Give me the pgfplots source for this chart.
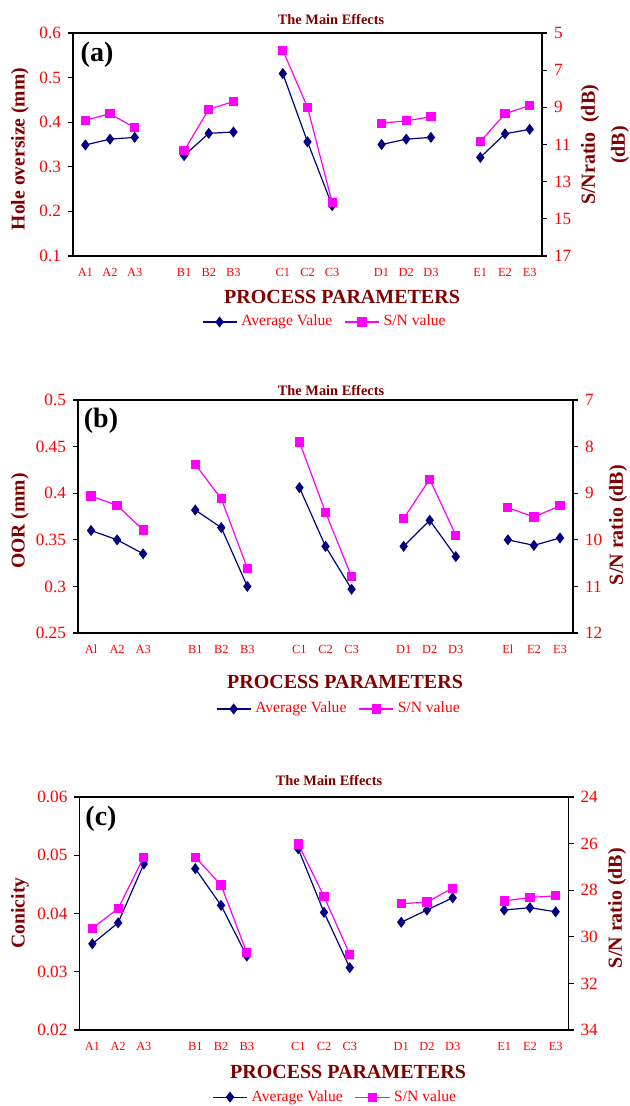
\documentclass[border=0pt]{standalone}
\usepackage{fontspec}
\setmainfont{Liberation Serif}
\usepackage{pgfplots}
\usepackage{pgfplotstable}
\pgfplotsset{compat=1.18}

\definecolor{avgblue}{RGB}{0,0,128}
\definecolor{snpink}{RGB}{255,0,255}
\definecolor{lblred}{RGB}{128,0,0}
\definecolor{tickred}{RGB}{255,0,0}

% x: A1..A3, gap, B1..B3, gap, ... (nan rows break the lines)
\pgfplotstableread{
x  avgA   snA    avgB   snB    avgC    snC
0  0.349  9.69   0.360  9.06   0.0348  29.63
1  0.362  9.35   0.350  9.26   0.0384  28.79
2  0.366  10.09  0.335  9.79   0.0485  26.58
3  nan    nan    nan    nan    nan     nan
4  0.325  11.34  0.382  8.38   0.0477  26.58
5  0.375  9.10   0.363  9.12   0.0414  27.78
6  0.378  8.69   0.300  10.61  0.0327  30.68
7  nan    nan    nan    nan    nan     nan
8  0.509  5.93   0.406  7.90   0.0511  26.02
9  0.356  9.00   0.343  9.41   0.0402  28.27
10 0.213  14.14  0.297  10.79  0.0307  30.75
11 nan    nan    nan    nan    nan     nan
12 0.350  9.85   0.343  9.54   0.0385  28.58
13 0.362  9.73   0.371  8.70   0.0406  28.51
14 0.366  9.50   0.332  9.90   0.0427  27.91
15 nan    nan    nan    nan    nan     nan
16 0.321  10.84  0.350  9.31   0.0406  28.46
17 0.374  9.35   0.344  9.51   0.0410  28.31
18 0.384  8.90   0.352  9.27   0.0403  28.24
}\maineff

\pgfplotsset{
  common/.style={
    scale only axis, anchor=south west,
    xmin=-0.5, xmax=18.5,
    unbounded coords=jump,
    scaled y ticks=false,
    tick align=outside, major tick length=2.5pt,
    tick style={black, line width=0.6pt},
    y tick label style={font=\fontsize{8.6}{10}\selectfont, text=tickred},
    /pgf/number format/assume math mode=true,
  },
  leftax/.style={
    common,
    axis line style={line width=0.8pt},
    xtick={0,1,2,4,5,6,8,9,10,12,13,14,16,17,18},
    xtick style={draw=none},
    x tick label style={font=\fontsize{6.2}{7}\selectfont, text=tickred},
    ytick pos=left,
  },
  rightax/.style={
    common,
    axis x line=none, axis y line*=right, y dir=reverse,
    axis line style={line width=0.8pt},
    legend style={draw=none, fill=none, legend columns=2, anchor=center,
      font=\fontsize{7.8}{9}\selectfont, text=tickred,
      /tikz/every even column/.append style={column sep=4pt}},
  },
  avgline/.style={avgblue, line width=0.6pt, mark=diamond*, mark size=2.3pt,
    mark options={fill=avgblue}},
  snline/.style={snpink, line width=0.6pt, mark=square*, mark size=2pt,
    mark options={fill=snpink}},
}

\begin{document}
\begin{tikzpicture}
\clip (0,0) rectangle (314.5pt,-553pt);

% ---------------- (a) ----------------
\begin{axis}[leftax, at={(36.5pt,-128pt)}, width=234.5pt, height=111.5pt,
  ymin=0.1, ymax=0.6, ytick={0.1,0.2,0.3,0.4,0.5,0.6},
  yticklabels={0.1,0.2,0.3,0.4,0.5,0.6},
  xticklabels={A1,A2,A3,B1,B2,B3,C1,C2,C3,D1,D2,D3,E1,E2,E3}]
\addplot[avgline] table[x=x, y=avgA] {\maineff};
\end{axis}
\begin{axis}[rightax, at={(36.5pt,-128pt)}, width=234.5pt, height=111.5pt,
  ymin=5, ymax=17, ytick={5,7,9,11,13,15,17},
  legend style={at={(0.539,-0.296)}}]
\addlegendimage{avgline}
\addplot[snline] table[x=x, y=snA] {\maineff};
\legend{Average Value, S/N value}
\end{axis}

% ---------------- (b) ----------------
\begin{axis}[leftax, at={(39pt,-316.5pt)}, width=247.5pt, height=116.5pt,
  ymin=0.25, ymax=0.5, ytick={0.25,0.3,0.35,0.4,0.45,0.5},
  yticklabels={0.25,0.3,0.35,0.4,0.45,0.5},
  xticklabels={Al,A2,A3,B1,B2,B3,C1,C2,C3,D1,D2,D3,El,E2,E3}]
\addplot[avgline] table[x=x, y=avgB] {\maineff};
\end{axis}
\begin{axis}[rightax, at={(39pt,-316.5pt)}, width=247.5pt, height=116.5pt,
  ymin=7, ymax=12, ytick={7,8,9,10,11,12},
  legend style={at={(0.529,-0.326)}}]
\addlegendimage{avgline}
\addplot[snline] table[x=x, y=snB] {\maineff};
\legend{Average Value, S/N value}
\end{axis}

% ---------------- (c) ----------------
\begin{axis}[leftax, at={(39.75pt,-515pt)}, width=244.5pt, height=116.5pt,
  ymin=0.02, ymax=0.06, ytick={0.02,0.03,0.04,0.05,0.06},
  yticklabels={0.02,0.03,0.04,0.05,0.06},
  xticklabels={A1,A2,A3,B1,B2,B3,C1,C2,C3,D1,D2,D3,E1,E2,E3}]
\addplot[avgline] table[x=x, y=avgC] {\maineff};
\end{axis}
\begin{axis}[rightax, at={(39.75pt,-515pt)}, width=244.5pt, height=116.5pt,
  ymin=24, ymax=34, ytick={24,26,28,30,32,34},
  legend style={at={(0.525,-0.288)}}]
\addlegendimage{avgline}
\addplot[snline] table[x=x, y=snC] {\maineff};
\legend{Average Value, S/N value}
\end{axis}

% titles, axis titles and panel letters
\tikzset{ttl/.style={font=\bfseries\fontsize{7.2}{8}\selectfont, text=lblred},
  xlab/.style={font=\bfseries\fontsize{10}{12}\selectfont, text=lblred},
  ylab/.style={font=\bfseries\fontsize{9.8}{12}\selectfont, text=lblred, rotate=90},
  pan/.style={font=\bfseries\fontsize{14}{16}\selectfont}}
\node[ttl] at (165.5pt,-10pt) {The Main Effects};
\node[ttl] at (165.5pt,-195.5pt) {The Main Effects};
\node[ttl] at (164.5pt,-390pt) {The Main Effects};
\node[xlab] at (171pt,-148.5pt) {PROCESS PARAMETERS};
\node[xlab] at (172.5pt,-341pt) {PROCESS PARAMETERS};
\node[xlab] at (174pt,-536pt) {PROCESS PARAMETERS};
\node[ylab] at (10pt,-74.5pt) {Hole oversize (mm)};
\node[ylab] at (10pt,-260.5pt) {OOR (mm)};
\node[ylab] at (10pt,-456.5pt) {Conicity};
\node[ylab, align=center, font=\bfseries\fontsize{10}{15}\selectfont] at (302.5pt,-72.5pt) {S/Nratio~~(dB)\\(dB)};
\node[ylab, font=\bfseries\fontsize{10}{12}\selectfont] at (309pt,-262.5pt) {S/N ratio (dB)};
\node[ylab, font=\bfseries\fontsize{10}{12}\selectfont] at (308.5pt,-454pt) {S/N ratio (dB)};
\node[pan] at (48.5pt,-27.5pt) {(a)};
\node[pan] at (50.5pt,-210.5pt) {(b)};
\node[pan] at (50.5pt,-409.5pt) {(c)};
\end{tikzpicture}
\end{document}
